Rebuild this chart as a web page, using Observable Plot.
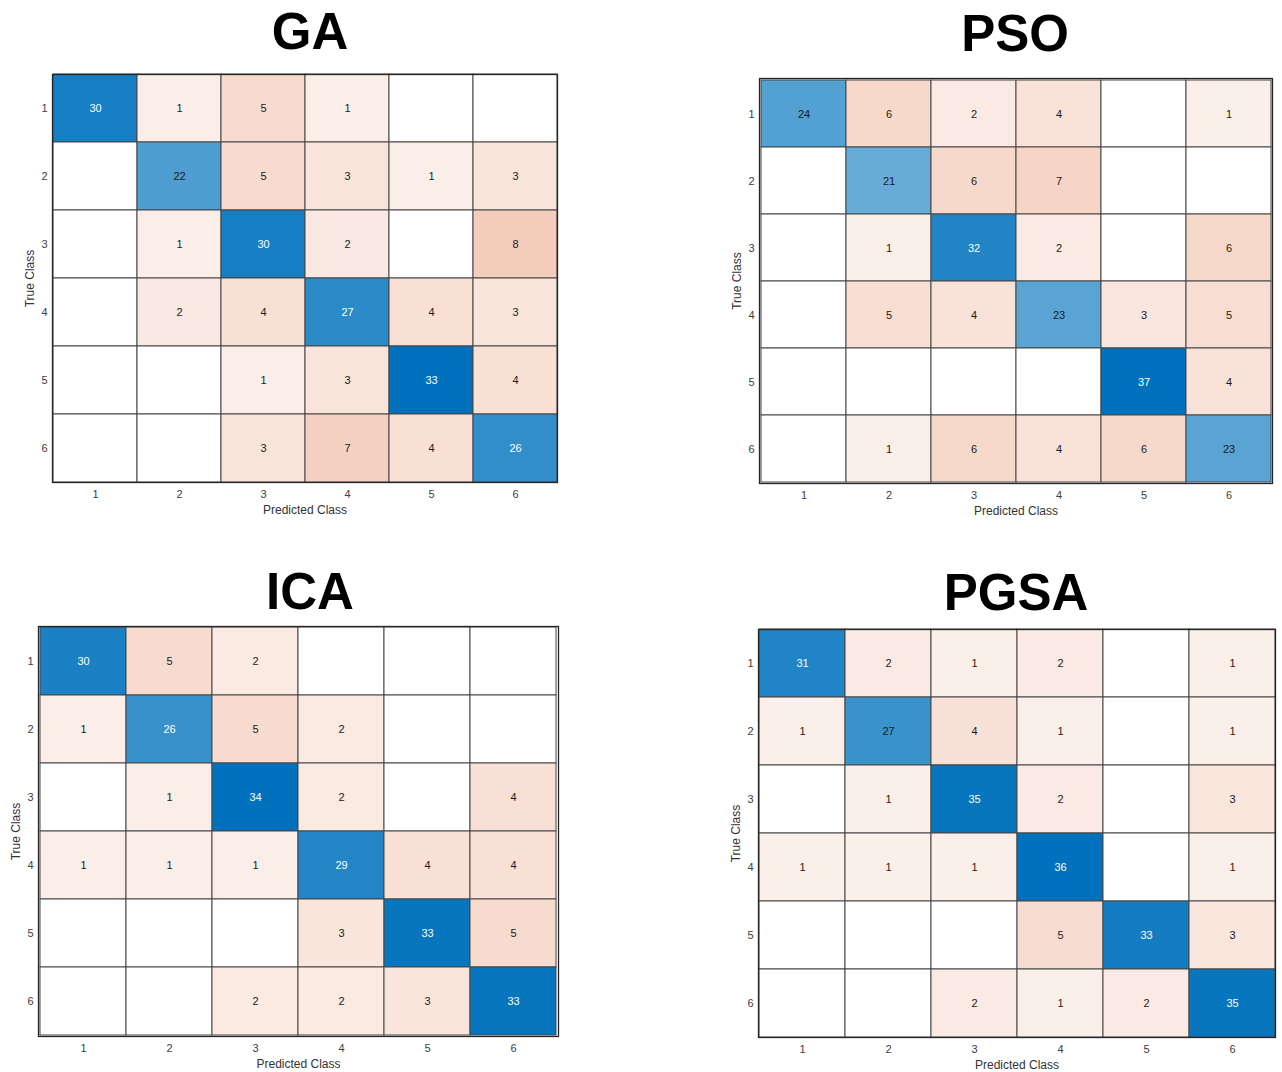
<!DOCTYPE html>
<html><head><meta charset="utf-8">
<script src="https://cdn.jsdelivr.net/npm/d3@7"></script>
<script src="https://cdn.jsdelivr.net/npm/@observablehq/plot@0.6"></script>
<style>
body{margin:0;background:#fff;}
#root{position:relative;width:1282px;height:1072px;overflow:hidden;font-family:Arial,"Liberation Sans",Helvetica,sans-serif;background:#fff;}
.title{position:absolute;font-weight:bold;font-size:51px;color:#000;transform:translate(-50%,-50%);white-space:nowrap;line-height:1;}
.panel{position:absolute;}
</style></head><body><div id="root"></div>
<script>
// ---- data ----
const classes = [1, 2, 3, 4, 5, 6];
const panelTitles = ["GA", "PSO", "ICA", "PGSA"];
const xLabel = "Predicted Class";
const yLabel = "True Class";

// rows = true class, columns = predicted class (0 = empty cell)
const gaMatrix = [
  [30, 1, 5, 1, 0, 0],
  [0, 22, 5, 3, 1, 3],
  [0, 1, 30, 2, 0, 8],
  [0, 2, 4, 27, 4, 3],
  [0, 0, 1, 3, 33, 4],
  [0, 0, 3, 7, 4, 26]
];
const psoMatrix = [
  [24, 6, 2, 4, 0, 1],
  [0, 21, 6, 7, 0, 0],
  [0, 1, 32, 2, 0, 6],
  [0, 5, 4, 23, 3, 5],
  [0, 0, 0, 0, 37, 4],
  [0, 1, 6, 4, 6, 23]
];
const icaMatrix = [
  [30, 5, 2, 0, 0, 0],
  [1, 26, 5, 2, 0, 0],
  [0, 1, 34, 2, 0, 4],
  [1, 1, 1, 29, 4, 4],
  [0, 0, 0, 3, 33, 5],
  [0, 0, 2, 2, 3, 33]
];
const pgsaMatrix = [
  [31, 2, 1, 2, 0, 1],
  [1, 27, 4, 1, 0, 1],
  [0, 1, 35, 2, 0, 3],
  [1, 1, 1, 36, 0, 1],
  [0, 0, 0, 5, 33, 3],
  [0, 0, 2, 1, 2, 35]
];
const matrices = [gaMatrix, psoMatrix, icaMatrix, pgsaMatrix];

// ---- layout (frame boxes in page pixels, title centers) ----
const layout = [
  {l: 52, r: 557, t: 74, b: 482, tx: 310, ty: 31},
  {l: 759, r: 1272, t: 78, b: 483, tx: 1015, ty: 33},
  {l: 38, r: 558, t: 626, b: 1036, tx: 310, ty: 591},
  {l: 758, r: 1275, t: 629, b: 1037, tx: 1016, ty: 592}
];

const BLUE = [0, 114, 189];
const ORANGE = [217, 83, 25];
const FONT = 'Arial, "Liberation Sans", Helvetica, sans-serif';

const root = document.getElementById("root");

function makePanel(matrix, box) {
  const max = d3.max(matrix.flat());
  const data = [];
  matrix.forEach((row, i) => row.forEach((v, j) => data.push({
    trueClass: classes[i], predClass: classes[j], value: v, diag: i === j
  })));
  const mix = (c, t) => d3.rgb(255 - (255 - c[0]) * t, 255 - (255 - c[1]) * t, 255 - (255 - c[2]) * t).formatHex();
  const shade = v => v > 0 ? 0.07 + 0.93 * v / max : 0;
  const fillOf = d => mix(d.diag ? BLUE : ORANGE, shade(d.value));
  const textOf = d => (d.diag && d.value / max > 0.76) ? "#ffffff" : "#1a1a1a";

  const ml = Math.min(50, box.l), mt = 10, mr = 6, mb = 45;
  const w = box.r - box.l + ml + mr;
  const h = box.b - box.t + mt + mb;
  const svg = Plot.plot({
    width: w, height: h,
    marginLeft: ml, marginTop: mt, marginRight: mr, marginBottom: mb,
    x: {domain: classes, padding: 0},
    y: {domain: classes, padding: 0},
    color: {type: "identity"},
    style: {fontFamily: FONT, fontSize: "11px", background: "transparent", overflow: "visible"},
    marks: [
      Plot.cell(data, {x: "predClass", y: "trueClass", fill: fillOf, stroke: "#474747", strokeWidth: 1, inset: 0}),
      Plot.text(data.filter(d => d.value > 0), {x: "predClass", y: "trueClass", text: "value", fill: textOf, fontSize: 11}),
      Plot.frame({stroke: "#262626", strokeWidth: 1.3}),
      Plot.axisX({tickSize: 0, tickPadding: 8, label: null, color: "#404040", fontSize: 11}),
      Plot.axisY({tickSize: 0, tickPadding: 5, label: null, color: "#404040", fontSize: 11}),
      Plot.text([xLabel], {frameAnchor: "bottom", dy: 28, lineAnchor: "middle", textAnchor: "middle", text: d => d, fontSize: 12, fill: "#333333"}),
      Plot.text([yLabel], {frameAnchor: "left", dx: -22, rotate: -90, lineAnchor: "middle", textAnchor: "middle", text: d => d, fontSize: 12, fill: "#333333"})
    ]
  });
  svg.classList.add("panel");
  svg.style.left = (box.l - ml) + "px";
  svg.style.top = (box.t - mt) + "px";
  svg.style.position = "absolute";
  root.appendChild(svg);
}

matrices.forEach((m, k) => {
  const box = layout[k];
  makePanel(m, box);
  const t = document.createElement("div");
  t.className = "title";
  t.textContent = panelTitles[k];
  t.style.left = box.tx + "px";
  t.style.top = box.ty + "px";
  root.appendChild(t);
});
</script>
</body></html>
